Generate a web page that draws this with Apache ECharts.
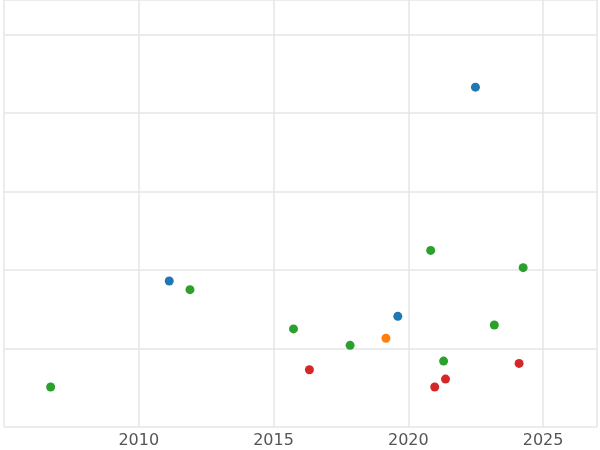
<!DOCTYPE html>
<html>
<head>
<meta charset="utf-8">
<script src="https://cdn.jsdelivr.net/npm/echarts@6/dist/echarts.min.js"></script>
<style>html,body{margin:0;padding:0;background:#fff}#main{width:600px;height:450px}</style>
</head>
<body>
<div id="main"></div>
<script>
// points per colour group: [year, value]
var blueData = [[2022.49, 4.33], [2011.13, 1.86], [2019.61, 1.41]];
var greenData = [[2006.73, 0.51], [2011.90, 1.75], [2015.74, 1.25], [2017.84, 1.04], [2020.83, 2.25], [2024.26, 2.03], [2023.19, 1.30], [2021.31, 0.84]];
var orangeData = [[2019.17, 1.13]];
var redData = [[2016.33, 0.73], [2020.98, 0.51], [2021.38, 0.61], [2024.11, 0.81]];

var chart = echarts.init(document.getElementById('main'));
function grp(data, color) {
	return { type: 'scatter', data: data, symbolSize: 9, itemStyle: { color: color, opacity: 1 } };
}
chart.setOption({
	animation: false,
	grid: { left: 4, right: -2, top: -3, bottom: 23, containLabel: false },
	xAxis: {
		type: 'value', min: 2005, max: 2027, interval: 5,
		axisLine: { show: false }, axisTick: { show: false },
		axisLabel: {
			color: '#555', fontSize: 16, fontFamily: 'DejaVu Sans', margin: 6,
			formatter: function (v) { return v > 2005 && v < 2027 ? v : ''; }
		},
		splitLine: { lineStyle: { color: '#e6e6e6', width: 1.5 } }
	},
	yAxis: {
		type: 'value', min: 0, max: 5.44, interval: 1,
		axisLine: { show: false }, axisTick: { show: false }, axisLabel: { show: false },
		splitLine: { lineStyle: { color: '#e6e6e6', width: 1.5 } }
	},
	series: [
		grp(blueData, '#1f77b4'),
		grp(greenData, '#2ca02c'),
		grp(orangeData, '#ff7f0e'),
		grp(redData, '#d62728')
	]
});
</script>
</body>
</html>
